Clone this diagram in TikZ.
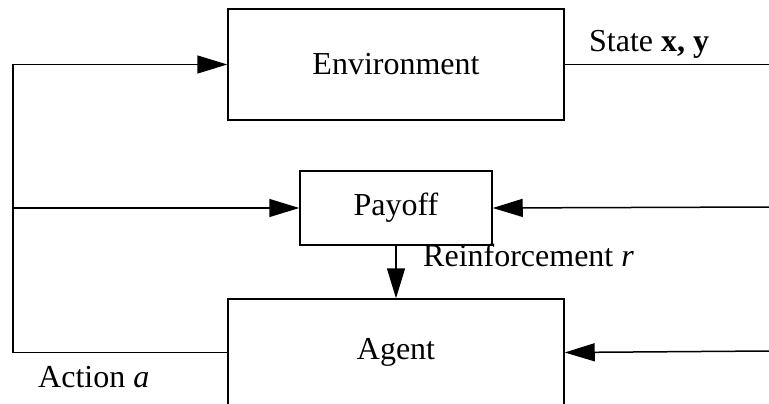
\documentclass[tikz,border=0pt]{standalone}
\usepackage{fontspec}
\setmainfont{Liberation Serif}
\usetikzlibrary{arrows.meta}
\begin{document}
\begin{tikzpicture}[x=1pt,y=-1pt,
  every node/.style={font=\fontsize{32}{38}\selectfont},
  blockbox/.style={draw,line width=1.5pt,inner sep=0pt,minimum width=#1},
  wire/.style={line width=1.5pt},
  arr/.style={wire,-{Triangle[length=30pt,width=18pt]}}]
  \useasboundingbox (0,0) rectangle (769,404);

  % blocks
  \node[blockbox=336pt,minimum height=111pt] (env) at (396,64.5) {Environment};
  \node[blockbox=192pt,minimum height=74pt]  (pay) at (396,208)  {Payoff};
  \node[blockbox=336pt,minimum height=107pt] (agt) at (396,352.5) {Agent};

  % connector end points
  \coordinate (tl) at (13,64.5);
  \coordinate (ml) at (13,208);
  \coordinate (sr) at (769,64.5);
  \coordinate (pr) at (769,207);
  \coordinate (ar) at (769,351);

  % action feedback loop on the left
  \draw[wire] (agt.west) -| (tl);
  \draw[arr] (tl) -- (env.west);
  \draw[arr] (ml) -- (pay.west);

  % state lines on the right
  \draw[wire] (env.east) -- (sr);
  \draw[arr] (pr) -- (pay.east);
  \draw[arr] (ar) -- (agt.east);

  % reinforcement
  \draw[arr] (pay.south) -- (agt.north);

  % labels
  \node[anchor=base west,inner sep=0pt] (lstate) at (589,52) {State \textbf{x, y}};
  \node[anchor=base west,inner sep=0pt] (lreinf) at (423,266) {Reinforcement \textit{r}};
  \node[anchor=base west,inner sep=0pt] (lact) at (38,387) {Action \textit{a}};
\end{tikzpicture}
\end{document}
